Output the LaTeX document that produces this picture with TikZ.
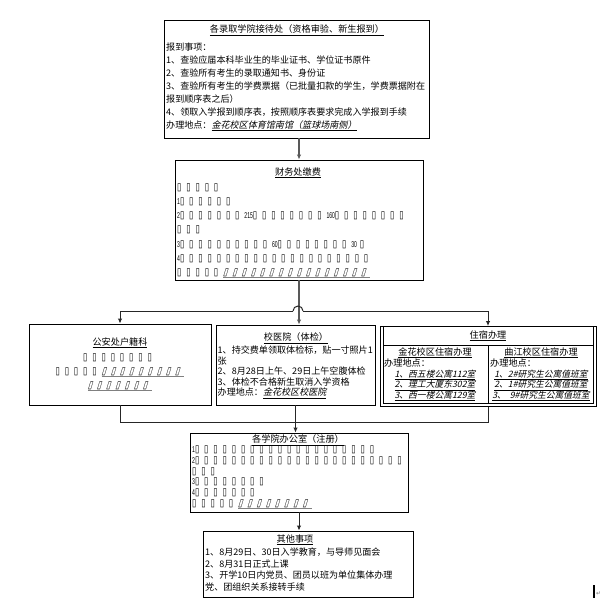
\documentclass[tikz,border=0pt]{standalone}
\usepackage{fontspec}
\usetikzlibrary{arrows.meta}
\setmainfont{Noto Sans CJK SC}
\newfontfamily\cjkit[FakeSlant=0.22]{Noto Sans CJK SC}
\newfontfamily\tofufont[FakeStretch=0.75]{DejaVu Sans}
\newfontfamily\tofuitfont[FakeSlant=0.3,FakeStretch=0.75]{DejaVu Sans}
\newfontfamily\numfont[FakeStretch=0.6]{Liberation Sans}
\newfontfamily\symfont{DejaVu Sans}
\newcommand\T{\makebox[9.2bp][l]{\tofufont\fontsize{10.5}{10.5}\selectfont ▯}}
\newcommand\TI{\makebox[9.2bp][l]{\tofuitfont\fontsize{10.5}{10.5}\selectfont ▯}}
\newcommand\D[1]{{\numfont\fontsize{8.5}{8.5}\selectfont #1}}
\newcount\tfcount
\newcommand\rep[2]{\tfcount=#1\relax\loop\ifnum\tfcount>0 #2\advance\tfcount by -1 \repeat}
\newcommand\gul[1]{\setbox0=\hbox{#1}\rlap{\textcolor{black!50}{\rule[-2.6bp]{\wd0}{1.4bp}}}\box0}
\newcommand\tp{\rule{0pt}{8bp}}
\begin{document}
\begin{tikzpicture}[x=1bp,y=-1bp,
  box/.style={draw, line width=0.9bp, rectangle, inner sep=0},
  hdr/.style={inner sep=0, font=\fontsize{9.2}{11}\selectfont},
  txt/.style={anchor=north west, inner sep=0, align=left},
  conn/.style={draw=black!85, line width=1bp},
  arr/.style={-{Latex[length=5bp,width=4.5bp]}}]
\useasboundingbox (0,0) rectangle (603,600);

% ---------- boxes ----------
\node[box, minimum width=265bp, minimum height=118bp] (recv) at (296.5,79) {};
\node[box, minimum width=248bp, minimum height=120bp] (fin) at (299,220) {};
\node[box, minimum width=182bp, minimum height=81bp] (pol) at (120,364.5) {};
\node[box, minimum width=159bp, minimum height=80bp] (med) at (295.5,365) {};
\node[box, minimum width=216bp, minimum height=80bp] (dorm) at (488,366.5) {};
\node[box, minimum width=218bp, minimum height=79bp] (reg) at (299,472.5) {};
\node[box, minimum width=210bp, minimum height=66bp] (oth) at (308,564) {};

% ---------- reception ----------
\node[hdr] (recvh) at (297,30) {\underline{各录取学院接待处（资格审验、新生报到）}};
\node[txt, font=\fontsize{9.1}{13}\selectfont] (recvt) at (166,42.4) {\tp 报到事项：\\
1、查验应届本科毕业生的毕业证书、学位证书原件\\
2、查验所有考生的录取通知书、身份证\\
3、查验所有考生的学费票据（已批量扣款的学生，学费票据附在\\
报到顺序表之后）\\
4、领取入学报到顺序表，按照顺序表要求完成入学报到手续\\
办理地点：\underline{\cjkit 金花校区体育馆南馆（篮球场南侧）}};

% ---------- finance ----------
\node[hdr] (finh) at (298,173) {\underline{财务处缴费}};
\node[txt, font=\fontsize{9}{14.2}\selectfont] (fint) at (177,182.3) {\tp\rep{5}{\T}\\
\D{1}\rep{6}{\T}\\
\D{2}\rep{7}{\T}\D{215}\rep{8}{\T}\D{160}\rep{8}{\T}\\
\rep{3}{\T}\\
\D{3}\rep{10}{\T}\D{60}\rep{8}{\T}\D{30}\hspace{3bp}\T\\
\D{4}\rep{21}{\T}\\
\rep{5}{\T}\gul{\rep{16}{\TI}}};

% ---------- police ----------
\node[hdr] (polh) at (120,343) {\underline{公安处户籍科}};
\node[hdr, anchor=base] (pol2) at (120,360.3) {\rep{8}{\T}};
\node[hdr, anchor=base] (pol3) at (120,374.3) {\rep{5}{\T}\gul{\rep{9}{\TI}}};
\node[hdr, anchor=base] (pol4) at (120,388.3) {\gul{\rep{7}{\TI}}};

% ---------- hospital ----------
\node[hdr] (medh) at (296,338) {\underline{校医院（体检）}};
\node[txt, font=\fontsize{9.1}{10.6}\selectfont] (medt) at (217.5,345.4) {\tp 1、持交费单领取体检标，贴一寸照片1\\
张\\
2、8月28日上午、29日上午空腹体检\\
3、体检不合格新生取消入学资格\\
办理地点：\underline{\cjkit 金花校区校医院}};

% ---------- dormitory ----------
\draw[line width=0.8bp] (383,326.5) rectangle (593,403);
\draw[line width=0.8bp] (383,345) -- (593,345);
\draw[line width=0.8bp] (488,345) -- (488,403);
\node[hdr] (dormh) at (488,336) {\underline{住宿办理}};
\node[hdr] (jh) at (435,353) {\underline{金花校区住宿办理}};
\node[hdr] (qh) at (541,353) {\underline{曲江校区住宿办理}};
\node[hdr, anchor=west] (jp) at (384,363.5) {办理地点：};
\node[hdr, anchor=west] (qp) at (490,363.5) {办理地点：};
\node[hdr, font=\fontsize{8.8}{10}\cjkit] (j1) at (435,375) {\underline{1、西五楼公寓112室}};
\node[hdr, font=\fontsize{8.8}{10}\cjkit] (j2) at (435,385.5) {\underline{2、理工大厦东302室}};
\node[hdr, font=\fontsize{8.8}{10}\cjkit] (j3) at (435,396) {\underline{3、西一楼公寓129室}};
\node[hdr, font=\fontsize{8.8}{10}\cjkit] (q1) at (541,375) {\underline{1、2\#研究生公寓值班室}};
\node[hdr, font=\fontsize{8.8}{10}\cjkit] (q2) at (541,385.5) {\underline{2、1\#研究生公寓值班室}};
\node[hdr, font=\fontsize{8.8}{10}\cjkit] (q3) at (541,396) {\underline{3、\ \ 9\#研究生公寓值班室}};

% ---------- registration ----------
\node[hdr] (regh) at (298,440) {\underline{各学院办公室（注册）}};
\node[txt, font=\fontsize{9}{10.8}\selectfont] (regt) at (192,444.3) {\tp\D{1}\rep{20}{\T}\\
\D{2}\rep{23}{\T}\\
\rep{3}{\T}\\
\D{3}\rep{8}{\T}\\
\D{4}\rep{7}{\T}\\
\rep{5}{\T}\gul{\rep{8}{\TI}}};

% ---------- other ----------
\node[hdr] (othh) at (295,540) {\underline{其他事项}};
\node[txt, font=\fontsize{9.1}{11.6}\selectfont] (otht) at (205,547.4) {\tp 1、8月29日、30日入学教育，与导师见面会\\
2、8月31日正式上课\\
3、开学10日内党员、团员以班为单位集体办理\\
党、团组织关系接转手续};

% ---------- connectors ----------
\coordinate (hl) at (293,311);
\coordinate (hr) at (303,311);
\coordinate (mrg) at (0,422);
\draw[conn, arr, draw=black!65, line width=1.4bp] (fin.north |- recv.south) -- (fin.north);
\draw[conn, arr, draw=black!65, line width=1.4bp] (fin.south) -- (fin.south |- med.north);
\draw[conn, arr] (hl) -| (pol.north);
\draw[conn] (hl) arc[start angle=180, end angle=360, radius=5];
\draw[conn, arr] (hr) -| (dorm.north);
\draw[conn] (pol.south) -- (pol.south |- mrg) -| (dorm.south);
\draw[conn, arr] (med.south) -- (med.south |- reg.north);
\draw[conn, arr] (reg.south) -- (reg.south |- oth.north);

% ---------- cursor mark ----------
\fill (592.5,585) rectangle (594.5,598);
\node[inner sep=0, text=black!55, font=\symfont\fontsize{6}{6}\selectfont] (crmark) at (598.5,594) {↵};
\end{tikzpicture}
\end{document}
